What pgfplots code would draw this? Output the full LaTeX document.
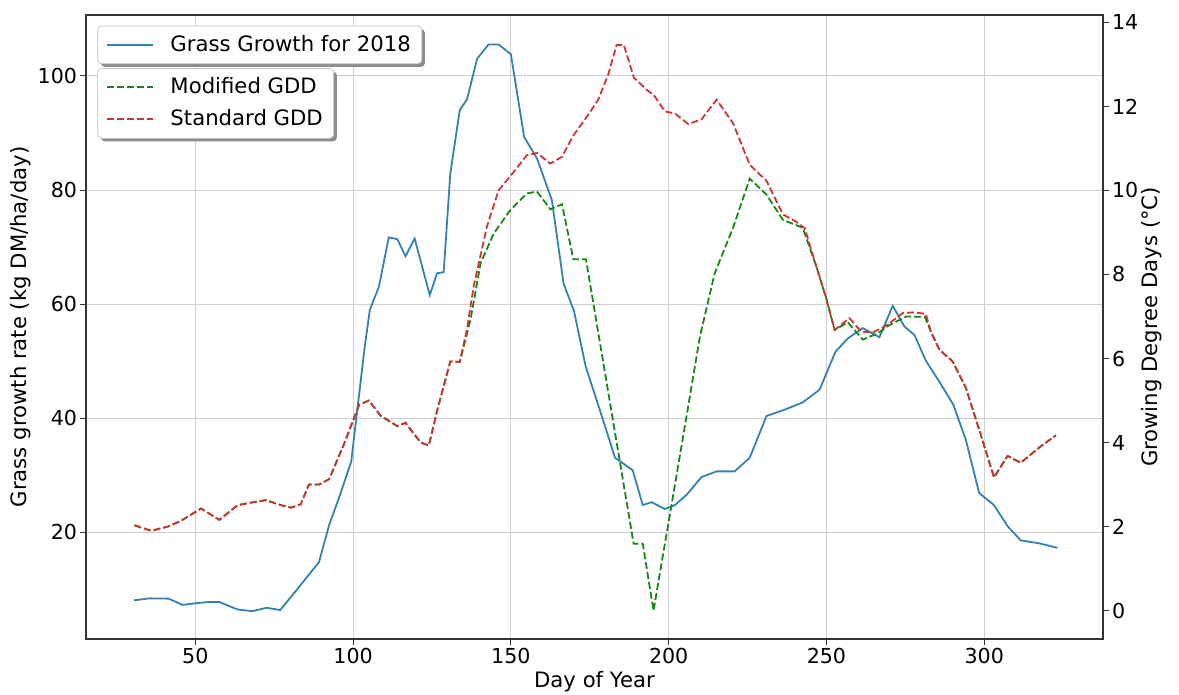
\documentclass[border=0pt]{standalone}
\usepackage{fontspec}
\setmainfont{DejaVu Sans}
\usepackage{pgfplots}
\pgfplotsset{compat=1.18}
\usetikzlibrary{shadows}
\makeatletter
\tikzset{no preactions/.code={\let\tikz@preactions\pgfutil@empty}}
\makeatother
\definecolor{cblue}{RGB}{50,130,180}
\definecolor{cred}{RGB}{210,50,50}
\definecolor{cgreen}{RGB}{20,135,20}
\begin{document}
\begin{tikzpicture}
\pgfplotsset{
  every axis/.append style={
    scale only axis, width=508.5pt, height=312pt,
    xmin=15.35, xmax=337.65,
    /pgf/number format/assume math mode=true,
    tick align=outside, major tick length=3pt,
    tick style={black!80, line width=0.5pt},
    tick label style={font=\fontsize{10.3}{12}\selectfont, inner sep=1.3pt},
    axis line style={black!80, line width=0.6pt},
    legend cell align=left,
    legend image code/.code={\path[no preactions] (-1pt,0pt) (29pt,0pt); \draw[no preactions,#1] (0pt,0pt) -- (23pt,0pt);},
  },
  mylegend/.style={legend style={
    draw=black!22, rounded corners=2pt, fill=white,
    drop shadow={shadow xshift=1.6pt, shadow yshift=-1.6pt, fill=black!45, opacity=1},
    font=\fontsize{10.6}{12.7}\selectfont,
    anchor=north west, inner xsep=3pt, inner ysep=2.15pt,
    nodes={inner sep=2.5pt}, row sep=1.5pt}},
}
\begin{axis}[name=main,
  ymin=1.33, ymax=110.67,
  ytick={20,40,60,80,100}, xtick={50,100,150,200,250,300},
  xtick pos=bottom, ytick pos=left,
  grid=major, grid style={black!19, line width=0.5pt},
  xlabel={Day of Year},
  ylabel={Grass growth rate (kg DM/ha/day)},
  every axis y label/.style={at={(axis description cs:-0.0639,0.5)}, rotate=90, anchor=center, font=\fontsize{10.6}{12.7}\selectfont},
  every axis x label/.style={at={(axis description cs:0.5,-0.0684)}, anchor=center, font=\fontsize{10.6}{12.7}\selectfont},
  mylegend,
  legend style={at={(axis description cs:0.0111,0.983)}},
]
\addplot[cblue, line width=0.9pt] coordinates {
(30.5,8.1)(35.5,8.45)(41.5,8.4)(46,7.3)(50.2,7.6)(53.9,7.8)(57.6,7.8)(63.4,6.5)(68.1,6.2)(72.6,6.8)(76.9,6.4)(83.4,10.8)(86,12.6)(89.2,14.8)(92.4,21.3)(95.5,26)(99.4,32.4)(103.7,52.6)(105.3,59)(108.2,63.1)(111.3,71.7)(114,71.4)(116.6,68.4)(119.5,71.5)(124.3,61.6)(126.6,65.4)(128.7,65.6)(130.8,82.9)(133.8,94)(136.1,95.9)(139.3,103)(142.9,105.5)(146.1,105.5)(150,103.8)(154.2,89.3)(158.3,85.5)(163,78.2)(166.7,63.6)(170,58.8)(173.7,49.1)(178.8,40.4)(183,33.1)(188.6,30.9)(191.8,24.8)(194.6,25.3)(198.8,24.1)(202,24.8)(205.7,26.6)(210.4,29.7)(215.2,30.7)(220.9,30.7)(225.7,33.1)(231,40.4)(236.7,41.5)(242.5,42.8)(247.8,45)(252.9,51.7)(256.8,54)(261.5,55.8)(266.8,54.2)(271,59.7)(274.7,56.1)(277.9,54.6)(281.5,50.1)(285.8,46.4)(290.2,42.4)(294.2,36.2)(298.4,26.9)(303.1,24.8)(307.4,21.1)(311.6,18.6)(317.4,18.1)(323.2,17.3)
};
\addlegendentry{Grass Growth for 2018}
\end{axis}
\begin{axis}[
  ymin=-0.675, ymax=14.175,
  ytick={0,2,4,6,8,10,12,14},
  axis x line=none, axis y line*=right, ytick pos=right,
  xtick=\empty,
  ylabel={Growing Degree Days (°C)},
  every axis y label/.style={at={(axis description cs:1.0482,0.5)}, rotate=90, anchor=center, font=\fontsize{10.6}{12.7}\selectfont},
  mylegend,
  legend style={at={(axis description cs:0.0111,0.915)}},
]
\addplot[cgreen, line width=0.9pt, dash pattern=on 3.5pt off 1.5pt] coordinates {
(30.7,2.03)(36,1.90)(41.3,2.0)(45.5,2.14)(51.8,2.43)(57.6,2.16)(63.4,2.51)(67.6,2.57)(72.4,2.63)(77.1,2.51)(80.3,2.45)(83.4,2.53)(86,3.0)(89.2,3.0)(92.4,3.13)(97.1,3.96)(101.9,4.9)(105,5.0)(108.7,4.64)(114,4.39)(116.6,4.47)(121.4,4.0)(124,3.93)(126.6,4.75)(130.8,5.93)(133.8,5.92)(136.1,6.6)(137.2,6.92)(140.4,8.27)(144.6,8.98)(149.8,9.53)(155.1,9.93)(158.3,9.97)(162.5,9.55)(166.2,9.67)(169.8,8.36)(173.8,8.36)(188.9,1.59)(191.8,1.59)(195.2,0.0)(200.4,2.29)(205.7,4.64)(209.9,6.52)(214.6,8.03)(220.4,9.11)(225.7,10.28)(231,9.9)(236.2,9.3)(242.5,9.11)(246.8,8.19)(249.9,7.44)(252.6,6.68)(256.8,6.86)(261.5,6.45)(266.3,6.6)(270,6.8)(275.3,7.0)(281.2,6.99)(283.1,6.64)(285.8,6.21)(290,5.93)(294.2,5.3)(298.9,4.19)(303.1,3.17)(307.4,3.68)(311.6,3.52)(317.4,3.88)(322.7,4.17)
};
\addlegendentry{Modified GDD}
\addplot[cred, line width=0.9pt, dash pattern=on 3.5pt off 1.5pt] coordinates {
(30.7,2.03)(36,1.90)(41.3,2.0)(45.5,2.14)(51.8,2.43)(57.6,2.16)(63.4,2.51)(67.6,2.57)(72.4,2.63)(77.1,2.51)(80.3,2.45)(83.4,2.53)(86,3.0)(89.2,3.0)(92.4,3.13)(97.1,3.96)(101.9,4.9)(105,5.0)(108.7,4.64)(114,4.39)(116.6,4.47)(121.4,4.0)(124,3.93)(126.6,4.75)(130.8,5.93)(133.8,5.92)(136.1,6.7)(138.2,7.71)(142.4,9.14)(146.1,10.0)(150.9,10.44)(155.1,10.84)(158.3,10.89)(162.5,10.64)(166.2,10.8)(169.8,11.31)(173.5,11.69)(177.7,12.16)(180.9,12.77)(183.5,13.46)(185.8,13.46)(189,12.68)(193,12.4)(195.6,12.24)(198.8,11.88)(202,11.83)(206.2,11.58)(210.4,11.69)(215.2,12.16)(220.4,11.6)(225.7,10.61)(231,10.23)(236.2,9.43)(240.5,9.25)(243.1,9.1)(246.8,8.19)(249.9,7.44)(252.6,6.68)(257.3,6.96)(261,6.64)(264.7,6.62)(268.9,6.78)(274.2,7.08)(277.9,7.1)(281.5,7.06)(283.1,6.64)(285.8,6.21)(290,5.93)(294.2,5.3)(298.9,4.19)(303.1,3.17)(307.4,3.68)(311.6,3.52)(317.4,3.88)(322.7,4.17)
};
\addlegendentry{Standard GDD}
\end{axis}
\pgfresetboundingbox
\path ([shift={(-43pt,-28pt)}]main.south west) rectangle ([shift={(38pt,7.5pt)}]main.north east);
\end{tikzpicture}
\end{document}
